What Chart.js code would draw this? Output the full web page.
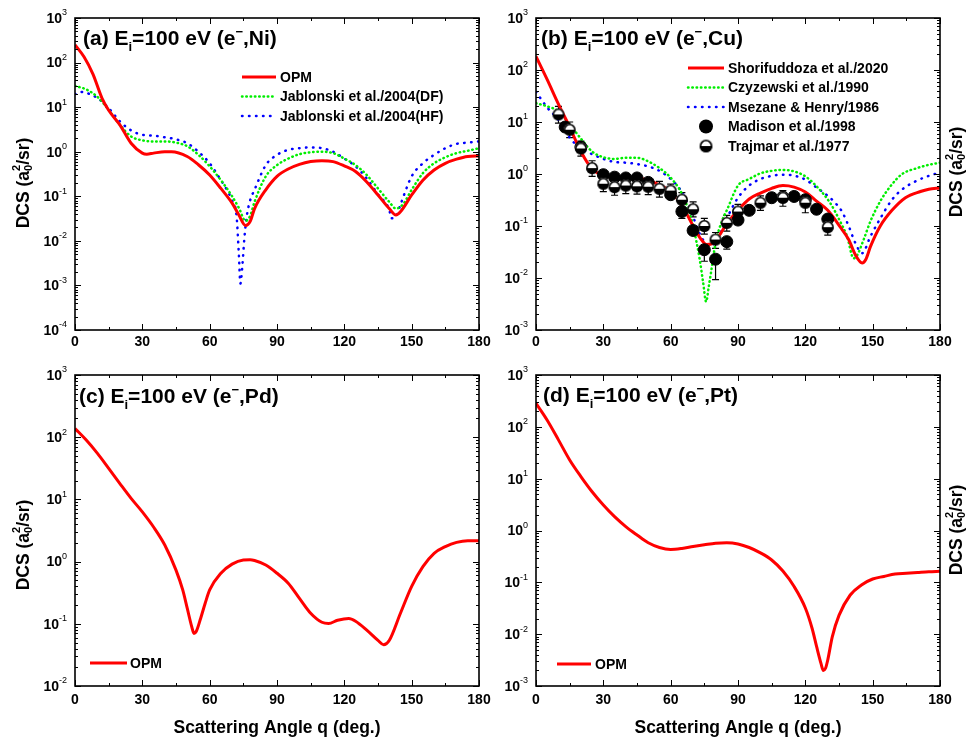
<!DOCTYPE html>
<html>
<head>
<meta charset="utf-8">
<script src="https://cdn.jsdelivr.net/npm/chart.js@4.4.0/dist/chart.umd.min.js"></script>
<style>
html, body { margin: 0; padding: 0; background: #fff; }
#wrap { position: relative; width: 968px; height: 738px; overflow: hidden; }
#wrap canvas { position: absolute; left: 0; top: 0; }
</style>
</head>
<body>
<div id="wrap">
  <canvas id="pa" width="968" height="738"></canvas>
  <canvas id="pb" width="968" height="738"></canvas>
  <canvas id="pc" width="968" height="738"></canvas>
  <canvas id="pd" width="968" height="738"></canvas>
</div>
<script>
// (a) e-Ni
var angNiOpm = [0,4,8,12,15,20,25,30,32,35,40,43,50,55,60,65,70,73,76,78,80,85,90,95,100,105,110,115,120,125,130,135,140,143,145,150,155,160,165,170,175,180];
var niOpm = [250,135,55,16,8.5,4,1.55,0.93,0.88,0.93,1.0,1.0,0.78,0.51,0.30,0.15,0.07,0.038,0.022,0.027,0.053,0.14,0.28,0.41,0.52,0.60,0.63,0.60,0.48,0.36,0.21,0.107,0.053,0.038,0.045,0.107,0.23,0.39,0.55,0.68,0.78,0.80];
var angNiDF = [0,5,10,15,20,25,30,35,40,45,50,55,60,65,70,73,76,78,80,85,90,95,100,105,110,115,120,125,130,135,140,143,146,150,155,160,165,170,175,180];
var niDF = [30,25,17,8.7,4,2.2,1.8,1.7,1.7,1.6,1.33,0.85,0.47,0.23,0.1,0.055,0.028,0.036,0.075,0.28,0.5,0.7,0.88,0.97,1.0,0.93,0.7,0.5,0.3,0.15,0.075,0.053,0.065,0.14,0.33,0.55,0.75,0.93,1.05,1.2];
var angNiHF = [0,3,5,10,15,20,25,30,35,40,45,50,55,60,65,68,70,72,73,73.7,74.5,75.5,76.5,78,80,85,90,95,100,105,110,115,120,125,130,135,140,141,143,145,150,155,160,165,170,175,180];
var niHF = [19.6,22,21,16,9.5,4.8,3.0,2.4,2.3,2.1,1.9,1.55,1.0,0.55,0.23,0.13,0.08,0.035,0.005,0.0011,0.0025,0.012,0.035,0.08,0.14,0.5,0.85,1.1,1.2,1.25,1.2,1.0,0.7,0.47,0.25,0.11,0.05,0.032,0.035,0.065,0.28,0.55,0.85,1.2,1.5,1.6,1.7];

// (b) e-Cu
var angCuSho = [0,5,10,15,20,25,30,35,40,45,50,55,60,65,70,73,76,78,80,85,90,95,100,105,110,115,120,125,130,135.6,139.3,142.3,145.3,147,149,153.4,158.6,164.6,171.3,175,180];
var cuSho = [182,65,22,8,2.7,1.25,0.95,0.85,0.85,0.85,0.75,0.62,0.46,0.25,0.1,0.06,0.044,0.045,0.052,0.11,0.2,0.33,0.43,0.53,0.6,0.56,0.45,0.3,0.2,0.095,0.055,0.028,0.0195,0.023,0.04,0.1,0.2,0.35,0.46,0.51,0.54];
var angCuCzy = [0,5,10,15,20,25,30,35,40,45,50,55,60,65,68,70,73,74.5,75.8,77,78,80,83,85,90,95,100,105,110,115,120,125,131,135.6,138.6,141.5,143,146,149,153.4,157.9,163,169.8,175,180];
var cuCzy = [23,20,16,9,4.8,2.7,2.1,1.95,2.05,2.05,1.75,1.3,0.85,0.42,0.2,0.1,0.022,0.008,0.0035,0.007,0.013,0.047,0.13,0.2,0.6,0.8,1.03,1.15,1.2,1.12,0.9,0.58,0.28,0.12,0.063,0.024,0.027,0.055,0.123,0.3,0.58,0.99,1.3,1.5,1.65];
var angCuMse = [0,5,10,15,20,25,30,35,40,45,50,55,60,65,70,73,75,77,80,85,90,95,100,105,110,115,120,125,130,132.6,136.3,139.3,142.3,145.3,149,153.4,158.6,163,169,175,180];
var cuMse = [38,19,11,5,3.1,2.4,1.95,1.7,1.65,1.55,1.4,1.15,0.8,0.45,0.15,0.07,0.05,0.042,0.05,0.14,0.35,0.6,0.8,0.92,0.97,0.93,0.78,0.55,0.38,0.3,0.19,0.1,0.047,0.03,0.063,0.14,0.32,0.5,0.72,0.92,1.07];
var angMad = [13,20,30,35,40,45,50,60,65,70,75,80,85,90,95,105,110,115,120,125,130];
var madVal = [8.0,3.3,0.97,0.87,0.84,0.84,0.69,0.4,0.19,0.082,0.035,0.023,0.05,0.13,0.2,0.35,0.36,0.37,0.32,0.21,0.136];
var madLo = [null,null,null,null,null,null,null,null,0.14,null,0.021,0.0093,0.036,null,null,null,null,null,null,null,null];
var angTra = [10,15,20,25,30,35,40,45,50,55,60,65,70,75,80,85,90,100,110,120,130];
var traVal = [14,7.1,3.1,1.3,0.65,0.56,0.6,0.58,0.57,0.52,0.48,0.32,0.21,0.1,0.055,0.115,0.19,0.28,0.35,0.28,0.095];
var traLo = [9.5,5.0,2.2,0.9,0.46,0.39,0.42,0.41,0.4,0.36,0.34,0.23,0.15,0.07,0.037,0.08,0.14,0.2,0.24,0.18,0.067];
var traHi = [20,10,4.3,1.8,0.9,0.78,0.84,0.8,0.79,0.72,0.64,0.44,0.29,0.14,0.075,0.16,0.26,0.38,0.48,0.38,0.13];

// (c) e-Pd
var angPd = [0,5,10,15,20,25,30,35,40,45,48,50,52,53,54,56,58,60,65,70,75,78,80,85,90,95,100,105,110,113,117,122,125,130,135,137.5,140,145,150,155,160,165,170,175,180];
var pdOpm = [138,90,55,31.6,18,10.4,6.3,3.6,1.85,0.73,0.35,0.178,0.09,0.07,0.075,0.123,0.214,0.35,0.65,0.91,1.06,1.07,1.04,0.88,0.65,0.45,0.257,0.148,0.106,0.101,0.114,0.122,0.11,0.079,0.054,0.046,0.054,0.148,0.4,0.83,1.36,1.74,2.04,2.17,2.17];

// (d) e-Pt
var angPt = [0,5,10,15,20,25,30,35,40,45,50,55,60,65,70,75,80,85,90,95,100,105,110,115,120,123,125,127,128,129,130,132,135,140,145,150,155,160,165,170,175,180];
var ptOpm = [284,134,56,23,11,5.6,3.1,1.85,1.19,0.82,0.58,0.47,0.43,0.45,0.49,0.53,0.57,0.58,0.55,0.47,0.37,0.27,0.165,0.083,0.032,0.013,0.0058,0.0027,0.002,0.0022,0.0032,0.0089,0.023,0.057,0.089,0.116,0.13,0.145,0.15,0.155,0.16,0.163];

var xTicks = [0, 30, 60, 90, 120, 150, 180];

var FONT = "Arial, 'Liberation Sans', Helvetica, sans-serif";
Chart.defaults.font.family = FONT;
Chart.defaults.color = '#000';

function pts(xs, ys) {
  return xs.map(function (x, i) { return { x: x, y: ys[i] }; });
}

// half white / half black marker (Trajmar)
function halfDot(r) {
  var c = document.createElement('canvas'), s = 2 * r + 2, m = s / 2;
  c.width = s; c.height = s;
  var g = c.getContext('2d');
  g.fillStyle = '#fff';
  g.beginPath(); g.arc(m, m, r, Math.PI, 2 * Math.PI); g.fill();
  g.fillStyle = '#000';
  g.beginPath(); g.arc(m, m, r, 0, Math.PI); g.fill();
  g.strokeStyle = '#000'; g.lineWidth = 1.6;
  g.beginPath(); g.arc(m, m, r - 0.8, 0, 2 * Math.PI); g.stroke();
  return c;
}
var halfImg = halfDot(6);

function rich(ctx, parts, x, y) {
  var cx = x;
  parts.forEach(function (p) {
    ctx.font = (p[3] ? '' : 'bold ') + p[1] + 'px ' + FONT;
    ctx.fillText(p[0], cx, y + (p[2] || 0));
    if (!p[4]) cx += ctx.measureText(p[0]).width;
  });
  return cx - x;
}

var errPlugin = {
  id: 'errbars',
  beforeDatasetsDraw: function (chart) {
    var ctx = chart.ctx, ys = chart.scales.y;
    ctx.save();
    ctx.strokeStyle = '#000'; ctx.lineWidth = 1.2;
    chart.data.datasets.forEach(function (ds, i) {
      if (!ds.errLo) return;
      var meta = chart.getDatasetMeta(i);
      meta.data.forEach(function (pt, j) {
        var lo = ds.errLo[j], hi = ds.errHi ? ds.errHi[j] : null;
        if (lo == null && hi == null) return;
        var v = ds.data[j].y;
        var yLo = ys.getPixelForValue(lo != null ? lo : v);
        var yHi = ys.getPixelForValue(hi != null ? hi : v);
        ctx.beginPath();
        ctx.moveTo(pt.x, yHi); ctx.lineTo(pt.x, yLo);
        if (lo != null) { ctx.moveTo(pt.x - 3.5, yLo); ctx.lineTo(pt.x + 3.5, yLo); }
        if (hi != null) { ctx.moveTo(pt.x - 3.5, yHi); ctx.lineTo(pt.x + 3.5, yHi); }
        ctx.stroke();
      });
    });
    ctx.restore();
  }
};

var decoPlugin = {
  id: 'deco',
  afterDraw: function (chart) {
    var o = chart.options.plugins.deco;
    var ctx = chart.ctx, a = chart.chartArea, xs = chart.scales.x, ys = chart.scales.y;
    ctx.save();
    ctx.fillStyle = '#000'; ctx.strokeStyle = '#000';

    // frame and inward ticks
    ctx.lineWidth = 1.6;
    ctx.strokeRect(a.left, a.top, a.right - a.left, a.bottom - a.top);
    ctx.lineWidth = 1;
    ctx.beginPath();
    var d, px, py, tl, e, m;
    for (d = 0; d <= 180; d += 15) {
      px = Math.round(xs.getPixelForValue(d)) + 0.5;
      tl = d % 30 ? 3 : 6;
      ctx.moveTo(px, a.bottom); ctx.lineTo(px, a.bottom - tl);
      ctx.moveTo(px, a.top); ctx.lineTo(px, a.top + tl);
    }
    var e0 = Math.round(Math.log10(ys.min)), e1 = Math.round(Math.log10(ys.max));
    for (e = e0; e < e1; e++) {
      for (m = 2; m < 10; m++) {
        py = Math.round(ys.getPixelForValue(m * Math.pow(10, e))) + 0.5;
        ctx.moveTo(a.left, py); ctx.lineTo(a.left + 3, py);
        ctx.moveTo(a.right, py); ctx.lineTo(a.right - 3, py);
      }
    }
    for (e = e0; e <= e1; e++) {
      py = Math.round(ys.getPixelForValue(Math.pow(10, e))) + 0.5;
      ctx.moveTo(a.left, py); ctx.lineTo(a.left + 6, py);
      ctx.moveTo(a.right, py); ctx.lineTo(a.right - 6, py);
    }
    ctx.stroke();

    // x tick labels
    ctx.font = 'bold 14px ' + FONT;
    ctx.textAlign = 'center';
    ctx.textBaseline = 'top';
    xTicks.forEach(function (t) {
      ctx.fillText(String(t), xs.getPixelForValue(t), a.bottom + o.xlab);
    });

    // y tick labels 10^n
    ctx.textBaseline = 'middle';
    for (e = e0; e <= e1; e++) {
      py = ys.getPixelForValue(Math.pow(10, e));
      var sup = String(e);
      ctx.font = '9px ' + FONT;
      var sw = ctx.measureText(sup).width;
      ctx.textAlign = 'right';
      ctx.fillText(sup, a.left - 8, py - 5);
      ctx.font = 'bold 14px ' + FONT;
      ctx.fillText('10', a.left - 8 - sw, py + 1);
    }

    // panel title
    ctx.textAlign = 'left';
    ctx.textBaseline = 'alphabetic';
    rich(ctx, [['(' + o.tag + ') E', 21], ['i', 13, 6], ['=100 eV (e', 21], ['\u2212', 13, -9], [',' + o.el + ')', 21]], o.tx, o.ty);

    // y axis title, rotated
    ctx.save();
    ctx.translate(o.yx, o.yy);
    ctx.rotate(-Math.PI / 2);
    ctx.textBaseline = 'middle';
    var yParts = [['DCS (a', 17.5], ['2', 11, -7, false, true], ['0', 11, 5], ['/sr)', 17.5]];
    ctx.globalAlpha = 0;
    var w = rich(ctx, yParts, 0, 0);
    ctx.globalAlpha = 1;
    rich(ctx, yParts, -w / 2, 0);
    ctx.restore();

    // x axis title
    if (o.xTitle) {
      ctx.font = 'bold 17.5px ' + FONT;
      ctx.textAlign = 'center';
      ctx.textBaseline = 'middle';
      ctx.fillText(o.xTitle, (a.left + a.right) / 2, 728);
    }

    // legend inside plot
    var lg = o.legend;
    chart.data.datasets.forEach(function (ds, i) {
      var y = lg.y + i * lg.dy;
      if (ds.showLine === false) {
        var cx = (lg.x0 + lg.x1) / 2;
        if (ds.pointStyle === 'circle') {
          ctx.beginPath(); ctx.arc(cx, y, 7, 0, 2 * Math.PI); ctx.fill();
        } else {
          ctx.drawImage(ds.pointStyle, cx - 7.5, y - 7.5, 15, 15);
        }
      } else {
        ctx.save();
        ctx.strokeStyle = ds.borderColor;
        ctx.lineWidth = ds.borderWidth;
        ctx.lineCap = ds.borderCapStyle || 'butt';
        ctx.setLineDash(ds.borderDash || []);
        ctx.beginPath(); ctx.moveTo(lg.x0, y); ctx.lineTo(lg.x1, y); ctx.stroke();
        ctx.restore();
      }
      ctx.font = 'bold 14px ' + FONT;
      ctx.textAlign = 'left';
      ctx.textBaseline = 'middle';
      ctx.fillText(ds.label, lg.tx, y + 1);
    });
    ctx.restore();
  }
};

function curve(label, xs, ys, kind, ord) {
  var ds = { label: label, data: pts(xs, ys), pointRadius: 0, cubicInterpolationMode: 'monotone', order: ord };
  if (kind === 'red') { ds.borderColor = '#ff0000'; ds.borderWidth = 3; }
  if (kind === 'green') { ds.borderColor = '#00ee00'; ds.borderWidth = 2.5; ds.borderDash = [0.5, 3.8]; ds.borderCapStyle = 'round'; }
  if (kind === 'blue') { ds.borderColor = '#0000ff'; ds.borderWidth = 2.5; ds.borderDash = [0.5, 6.5]; ds.borderCapStyle = 'round'; }
  return ds;
}

function panel(id, box, yMin, yMax, datasets, deco) {
  return new Chart(document.getElementById(id), {
    type: 'line',
    data: { datasets: datasets },
    options: {
      responsive: false,
      animation: false,
      devicePixelRatio: 1,
      layout: { padding: { left: box[0], top: box[1], right: 968 - box[2], bottom: 738 - box[3] } },
      plugins: { legend: { display: false }, tooltip: { enabled: false }, deco: deco },
      scales: {
        x: {
          type: 'linear', min: 0, max: 180,
          grid: { display: false }, border: { display: false },
          ticks: { display: false },
          afterFit: function (s) { s.height = 0; }
        },
        y: {
          type: 'logarithmic', min: yMin, max: yMax,
          grid: { display: false }, border: { display: false },
          ticks: { display: false },
          afterFit: function (s) { s.width = 0; }
        }
      }
    },
    plugins: [errPlugin, decoPlugin]
  });
}

panel('pa', [75, 18, 479, 330], 1e-4, 1e3, [
  curve('OPM', angNiOpm, niOpm, 'red', 1),
  curve('Jablonski et al./2004(DF)', angNiDF, niDF, 'green', 2),
  curve('Jablonski et al./2004(HF)', angNiHF, niHF, 'blue', 3)
], { tag: 'a', el: 'Ni', tx: 83, ty: 45, yx: 24, yy: 183, xlab: 5.5,
     legend: { x0: 242, x1: 276, tx: 280, y: 77, dy: 19.5 } });

panel('pb', [536, 18, 940, 330], 1e-3, 1e3, [
  curve('Shorifuddoza et al./2020', angCuSho, cuSho, 'red', 2),
  curve('Czyzewski et al./1990', angCuCzy, cuCzy, 'green', 3),
  curve('Msezane & Henry/1986', angCuMse, cuMse, 'blue', 4),
  { label: 'Madison et al./1998', data: pts(angMad, madVal), showLine: false, order: 1,
    pointStyle: 'circle', pointRadius: 6, backgroundColor: '#000', borderColor: '#000', errLo: madLo },
  { label: 'Trajmar et al./1977', data: pts(angTra, traVal), showLine: false, order: 0,
    pointStyle: halfImg, pointRadius: 6, errLo: traLo, errHi: traHi }
], { tag: 'b', el: 'Cu', tx: 541, ty: 45, yx: 957, yy: 172, xlab: 5.5,
     legend: { x0: 688, x1: 724, tx: 728, y: 68, dy: 19.5 } });

panel('pc', [75, 375, 479, 686], 1e-2, 1e3, [
  curve('OPM', angPd, pdOpm, 'red', 1)
], { tag: 'c', el: 'Pd', tx: 79, ty: 403, yx: 24, yy: 545, xlab: 7, xTitle: 'Scattering Angle q (deg.)',
     legend: { x0: 90, x1: 127, tx: 130, y: 663, dy: 19.5 } });

panel('pd', [536, 375, 940, 686], 1e-3, 1e3, [
  curve('OPM', angPt, ptOpm, 'red', 1)
], { tag: 'd', el: 'Pt', tx: 543, ty: 402, yx: 957, yy: 530, xlab: 7, xTitle: 'Scattering Angle q (deg.)',
     legend: { x0: 557, x1: 591, tx: 595, y: 664, dy: 19.5 } });
</script>
</body>
</html>
